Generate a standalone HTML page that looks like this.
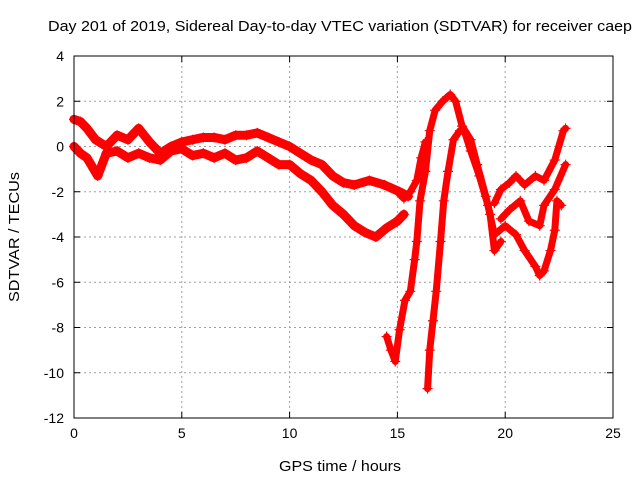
<!DOCTYPE html>
<html><head><meta charset="utf-8"><style>
html,body{margin:0;padding:0;background:#fff}
svg{display:block;font-family:"Liberation Sans",sans-serif}
</style></head><body>
<svg id="chart" width="640" height="480" viewBox="0 0 640 480">
<text x="48" y="31" font-size="15" textLength="584" lengthAdjust="spacingAndGlyphs">Day 201 of 2019, Sidereal Day-to-day VTEC variation (SDTVAR) for receiver caep</text>
<g id="grid"></g>
<g id="axes"></g>
<g id="marks"></g>
<rect x="74" y="56" width="539" height="362" fill="none" stroke="#000" stroke-width="1"/>
<text x="279" y="471" font-size="15" textLength="122" lengthAdjust="spacingAndGlyphs">GPS time / hours</text>
<text transform="translate(19,302) rotate(-90)" font-size="15" textLength="130" lengthAdjust="spacingAndGlyphs">SDTVAR / TECUs</text>
</svg>
<script>
const xTicks=[0,5,10,15,20,25];
const yTicks=[4,2,0,-2,-4,-6,-8,-10,-12];
const s1T=[0,0.3,0.6,1,1.5,2,2.5,3,3.5,4,4.5,5,5.5,6,6.5,7,7.5,8,8.5,9,9.5,10,10.5,11,11.5,12,12.5,13,13.7,14.4,15.1,15.5];
const s1V=[1.2,1.1,0.8,0.3,0,0.5,0.3,0.8,0.2,-0.3,0,0.2,0.3,0.4,0.4,0.3,0.5,0.5,0.6,0.4,0.2,0,-0.3,-0.6,-0.8,-1.3,-1.6,-1.7,-1.5,-1.7,-2.0,-2.2];
const s2T=[0,0.3,0.6,1.1,1.5,2,2.5,3,3.5,4,4.5,5,5.5,6,6.5,7,7.5,8,8.5,9,9.5,10,10.5,11,11.5,12,12.5,13,13.5,14,14.5,15,15.3];
const s2V=[0,-0.3,-0.5,-1.3,-0.3,-0.2,-0.5,-0.3,-0.5,-0.6,-0.2,-0.1,-0.4,-0.3,-0.5,-0.3,-0.6,-0.5,-0.2,-0.5,-0.8,-0.8,-1.2,-1.5,-2.0,-2.6,-3.0,-3.5,-3.8,-4.0,-3.6,-3.3,-3.0];
const s3T=[14.5,14.7,14.9,15.1,15.35,15.6,15.8,15.9,16.05,16.3,16.5,16.75,17.1,17.45,17.7,18.0,18.4,18.7,19.1,19.3,19.5,19.8];
const s3V=[-8.4,-9.0,-9.5,-8.1,-6.8,-6.4,-5.0,-4.2,-2.4,-1.1,0.7,1.6,2.0,2.3,2.0,0.9,0.3,-0.8,-2.2,-3.0,-4.6,-4.2];
const s4T=[16.4,16.5,16.65,16.8,17.0,17.15,17.35,17.6,17.9,18.1,18.4,18.8,19.2,19.5,20.0,20.5,20.9,21.4,21.6,21.8,22.1,22.3,22.4,22.6];
const s4V=[-10.7,-9.0,-7.7,-6.4,-4.2,-2.4,-1.1,0.3,0.7,0.7,-0.2,-1.3,-2.6,-3.9,-3.5,-3.9,-4.6,-5.3,-5.7,-5.5,-4.6,-3.7,-2.4,-2.6];
const s5T=[19.5,19.8,20.2,20.5,20.9,21.4,21.8,22.3,22.7,22.8];
const s5V=[-2.5,-1.9,-1.6,-1.3,-1.7,-1.3,-1.5,-0.6,0.7,0.8];
const s6T=[19.8,20.2,20.7,21.1,21.6,21.8,22.3,22.8];
const s6V=[-3.2,-2.8,-2.4,-3.3,-3.5,-2.6,-1.9,-0.8];
const s7T=[15.0,15.3,15.6,15.9,16.1,16.3];
const s7V=[-2.0,-2.3,-2.0,-1.5,-0.5,0.2];
const series=[[s1T,s1V],[s2T,s2V],[s3T,s3V],[s4T,s4V],[s5T,s5V],[s6T,s6V],[s7T,s7V]];
const L=74,R=613,T=56,B=418;
function xs(t){return L+(t-0)/(25-0)*(R-L);}
function ys(v){return T+(4-v)/(16)*(B-T);}
const NS='http://www.w3.org/2000/svg';
const grid=document.getElementById('grid'),axes=document.getElementById('axes'),marks=document.getElementById('marks');
function mk(tag,a,p){const e=document.createElementNS(NS,tag);for(const k in a)e.setAttribute(k,a[k]);p.appendChild(e);return e;}
xTicks.forEach(t=>{const x=xs(t);
 if(t>0&&t<25){const g=mk('line',{x1:x,y1:T,x2:x,y2:B,stroke:'#a0a0a0','stroke-dasharray':'2,3','stroke-width':1},grid);
 
 }
 mk('line',{x1:x,y1:B,x2:x,y2:B-6,stroke:'#000'},axes);
 mk('line',{x1:x,y1:T,x2:x,y2:T+6,stroke:'#000'},axes);
 const lb=mk('text',{x:x,y:B+20,'font-size':14,'text-anchor':'middle'},axes);lb.textContent=t;
 
 });
yTicks.forEach(v=>{const y=ys(v);
 if(v<4&&v>-12){const g=mk('line',{x1:L,y1:y,x2:R,y2:y,stroke:'#a0a0a0','stroke-dasharray':'2,3','stroke-width':1},grid);
 
 }
 mk('line',{x1:L,y1:y,x2:L+6,y2:y,stroke:'#000'},axes);
 mk('line',{x1:R,y1:y,x2:R-6,y2:y,stroke:'#000'},axes);
 const lb=mk('text',{x:L-10,y:y+5,'font-size':14,'text-anchor':'end'},axes);lb.textContent=v;
 
 });
series.forEach((s,i)=>{const [ts,vs]=s;
 const pts=ts.map((t,j)=>xs(t)+','+ys(vs[j])).join(' ');
 const pl=mk('polyline',{points:pts,fill:'none',stroke:'#ff0000','stroke-width':i<2?9:7,'stroke-linejoin':'round','stroke-linecap':'round'},marks);
 
 
 ts.forEach((t,j)=>{const x=xs(t),y=ys(vs[j]);
  const p=mk('path',{d:`M${x-5},${y}H${x+5}M${x},${y-5}V${y+5}`,stroke:'#ff0000','stroke-width':1.2},marks);
  
  });
});
</script>
</body></html>
